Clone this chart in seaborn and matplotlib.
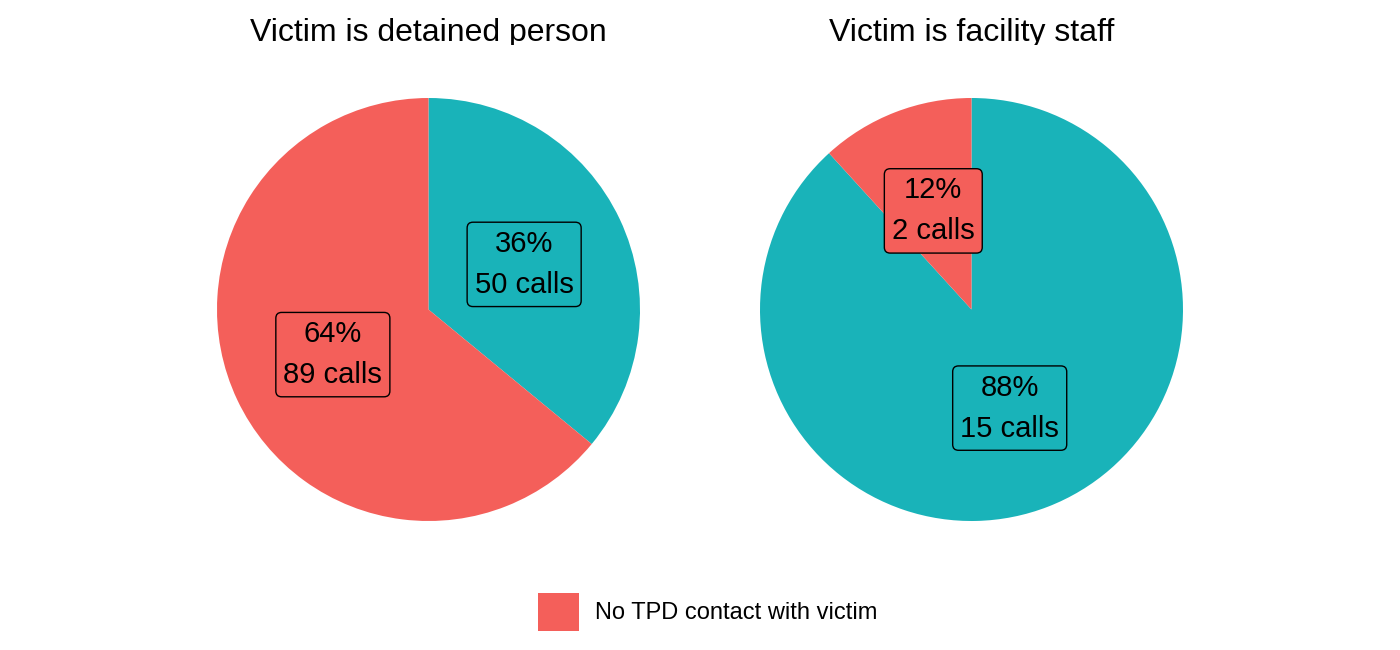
import numpy as np
import matplotlib
matplotlib.use("Agg")
import matplotlib.pyplot as plt
from matplotlib.patches import Patch
import seaborn as sns

# ---- data ----
groups = ["Victim is detained person", "Victim is facility staff"]
categories = ["TPD contact with victim", "No TPD contact with victim"]
calls_contact = [50, 15]
calls_no_contact = [89, 2]

colors = {"TPD contact with victim": "#19B3B9",
          "No TPD contact with victim": "#F45F5A"}

sns.set_theme(style="white")
plt.rcParams['font.family'] = ['Liberation Sans', 'DejaVu Sans']

W, H = 1400, 650
fig = plt.figure(figsize=(14, 6.5), dpi=100)

centers_x = [428.5, 971.5]
center_y = 309.5
radius_px = 211.5

for gi, group in enumerate(groups):
    vals = [calls_contact[gi], calls_no_contact[gi]]
    cols = [colors[c] for c in categories]
    cx = centers_x[gi]
    ax = fig.add_axes([(cx - radius_px) / W, (H - center_y - radius_px) / H,
                       2 * radius_px / W, 2 * radius_px / H])
    wedges, _ = ax.pie(vals, colors=cols, startangle=90, counterclock=False,
                       radius=1, wedgeprops=dict(linewidth=0))
    ax.set_xlim(-1, 1)
    ax.set_ylim(-1, 1)
    ax.set_aspect("equal")
    ax.axis("off")
    total = sum(vals)
    for w, v, col in zip(wedges, vals, cols):
        mid = np.deg2rad((w.theta1 + w.theta2) / 2)
        x, y = 0.5 * np.cos(mid), 0.5 * np.sin(mid)
        pct = round(100 * v / total)
        ax.text(x, y, f"{pct}%\n{v} calls", ha="center", va="center",
                fontsize=21, color="black", linespacing=1.6,
                bbox=dict(boxstyle="round,pad=0.26,rounding_size=0.2",
                          facecolor=col, edgecolor="black", linewidth=1))
    # title strip (clipped at bottom like the reference)
    tax = fig.add_axes([(cx - 300) / W, 1 - 45 / H, 600 / W, 45 / H])
    tax.axis("off")
    tax.set_xlim(0, 1)
    tax.set_ylim(0, 45)
    tax.text(0.5, 4, group, ha="center", va="baseline", fontsize=23,
             color="black", clip_on=True)

handles = [Patch(facecolor=colors["No TPD contact with victim"], edgecolor="none",
                 label="No TPD contact with victim")]
leg = fig.legend(handles=handles, loc="center", bbox_to_anchor=(708 / W, 1 - 612 / H),
                 frameon=False, fontsize=17, handlelength=1.72, handleheight=2.15,
                 handletextpad=0.7)
for t in leg.get_texts():
    t.set_color("black")

fig.savefig("out.png", dpi=100, facecolor="white")
